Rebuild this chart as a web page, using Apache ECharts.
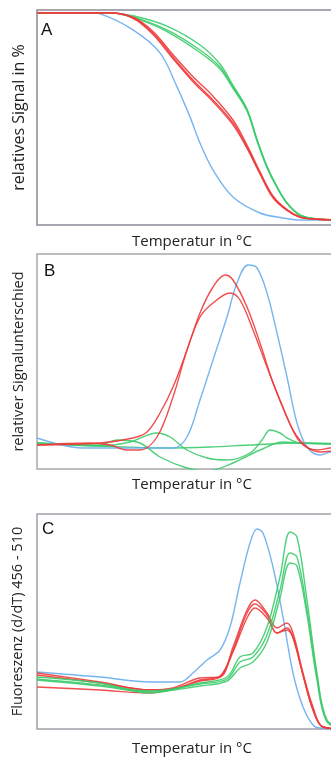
<!DOCTYPE html>
<html><head><meta charset="utf-8">
<script src="https://cdn.jsdelivr.net/npm/echarts@6/dist/echarts.min.js"></script>
<style>html,body{margin:0;padding:0;background:#fff}#c{width:331px;height:758px}</style>
</head><body><div id="c"></div>
<script>
// Panel A: relative signal (%) vs temperature (arbitrary units)
const aBlueX = [0,53,63,96,123,140,153,163,176,196,223,246,263,308];
const aBlueY = [100,100,99.5,91.8,80.7,64.3,49.8,37.2,24.2,11.1,3.4,1.0,0,0];
const aRedX = [0,63,73,96,116,136,156,176,196,210,223,236,250,263,276,308];
const aRed1Y = [100,100,100,97.6,90.3,78.7,67.6,58.0,46.9,35.3,22.7,11.1,4.8,1.4,0.5,0];
const aRed2Y = [100,100,100,97.9,91.0,79.8,69.2,59.8,48.3,36.2,23.3,11.6,5.0,1.5,0.5,0];
const aRed3Y = [100,100,100,97.3,89.6,77.9,66.8,57.1,45.9,34.6,22.2,10.7,4.6,1.3,0.5,0];
const aGreenX = [0,73,96,130,163,183,196,210,220,230,240,250,263,280,308];
const aGreen1Y = [100,100,98.1,91.8,82.1,73.9,64.3,53.1,38.6,25.6,15.9,8.2,2.4,0.5,0];
const aGreen2Y = [100,100,98.6,93.6,84.5,75.3,65.0,53.6,39.0,25.9,16.1,8.3,2.5,0.5,0];
const aGreen3Y = [100,100,97.8,91.0,80.9,72.9,63.6,52.6,38.2,25.3,15.7,8.1,2.3,0.5,0];

// Panel B: relative signal difference
const bBlueX = [0,46,96,136,150,163,176,190,200,211,220,230,240,250,260,270,283,293,308];
const bBlueY = [31,21,21,21,32,69,109,152,186,204,201,176,136,92,46,22,14,17,20];
const bRed1X = [0,63,96,110,123,136,150,163,176,188,196,210,223,236,250,263,280,293,308];
const bRed1Y = [24,26,31,37,56,82,119,156,182,194,189,162,126,86,52,27,19,21,23];
const bRed2X = [0,53,73,90,103,120,136,150,163,176,193,203,216,230,243,256,270,283,308];
const bRed2Y = [24,26,24,19,19,32,72,119,152,166,176,169,139,102,69,39,22,17,21];
const bGreen1X = [0,63,130,173,213,263,308];
const bGreen1Y = [26,23,21,22,24,26,25];
const bGreen2X = [0,63,93,120,133,150,170,190,213,225,233,243,250,263,308];
const bGreen2Y = [26,23,27,36,32,19,11,9,16,29,39,36,31,26,25];
const bGreen3X = [0,63,80,103,123,150,170,196,223,246,263,308];
const bGreen3Y = [26,24,29,26,12,1,-2,6,19,27,26,25];

// Panel C: fluorescence (d/dT) 456 - 510
const cBlueX = [0,63,113,143,156,170,183,193,203,213,220,226,236,246,256,266,276,283,308];
const cBlueY = [57,52,47,47,56,69,79,102,146,186,200,196,162,112,56,22,4,1,0];
const cRedX = [0,63,113,136,163,183,196,210,218,230,240,250,256,266,276,286,308];
const cRed1Y = [56,47,39,41,51,52,82,119,129,116,101,106,96,56,22,2,0];
const cRed2Y = [54,46,39,40,49,53,79,116,125,114,96,99,91,54,19,2,0];
const cRed3Y = [42,39,36,40,48,52,77,111,121,111,96,101,92,54,19,2,0];
const cGreenX = [0,63,113,163,190,203,216,230,243,253,260,270,280,290,308];
const cGreen1Y = [52,46,36,46,52,72,76,102,152,197,192,129,56,9,0];
const cGreen2Y = [50,44,38,45,50,67,72,94,139,176,172,119,52,8,0];
const cGreen3Y = [49,43,37,43,48,61,67,87,131,166,163,114,49,7,0];

const BLUE = '#68adf0', RED = '#ee3b3b', GREEN = '#3ccb6c';
const FONT = 'Open Sans';

function zip(xs, ys){ return xs.map((x,i)=>[x, ys[i]]); }
function line(idx, xs, ys, color){
  return {type:'line', xAxisIndex:idx, yAxisIndex:idx, data:zip(xs,ys), smooth:0.35,
    showSymbol:false, symbol:'none', lineStyle:{color:color, width:1.4, opacity:0.9}, clip:true, silent:true};
}

const grids = [
  {left:37, top:10, width:310, height:215},
  {left:37, top:254, width:310, height:215},
  {left:37, top:514, width:310, height:215}
];
const yNames = ['relatives Signal in %','relativer Signalunterschied','Fluoreszenz (d/dT) 456 - 510'];
const yNameSizes = [16,14.5,14.5];
const yNameGaps = [10,11,12];
const xNameGaps = [9,8,12];
const yRanges = [[-2.4,101.4],[0,215],[0,215]];
const borderColors = ['#8b8b99','#a9a9a9','#a0a0a8'];

const option = {
  animation:false,
  backgroundColor:'#fff',
  grid: grids.map((g,i)=>Object.assign({show:true, borderColor:borderColors[i], borderWidth:1.5,
    backgroundColor:'transparent', containLabel:false, outerBoundsMode:'none'}, g)),
  xAxis: grids.map((g,i)=>({type:'value', gridIndex:i, min:0, max:310,
    axisLine:{show:false}, axisTick:{show:false}, axisLabel:{show:false}, splitLine:{show:false},
    name:'Temperatur in °C', nameLocation:'middle', nameGap:xNameGaps[i],
    nameTextStyle:{fontFamily:FONT, fontSize:15, color:'#222'}})),
  yAxis: grids.map((g,i)=>({type:'value', gridIndex:i, min:yRanges[i][0], max:yRanges[i][1],
    axisLine:{show:false}, axisTick:{show:false}, axisLabel:{show:false}, splitLine:{show:false},
    name:yNames[i], nameLocation:'middle', nameGap:yNameGaps[i],
    nameTextStyle:{fontFamily:FONT, fontSize:yNameSizes[i], color:'#222'}})),
  graphic:[
    {type:'text', left:41, top:22, style:{text:'A', font:'17px "Liberation Sans"', fill:'#111'}},
    {type:'text', left:44, top:263, style:{text:'B', font:'17px "Liberation Sans"', fill:'#111'}},
    {type:'text', left:42, top:521, style:{text:'C', font:'17px "Liberation Sans"', fill:'#111'}}
  ],
  series:[
    line(0,aBlueX,aBlueY,BLUE),
    line(0,aGreenX,aGreen1Y,GREEN), line(0,aGreenX,aGreen2Y,GREEN), line(0,aGreenX,aGreen3Y,GREEN),
    line(0,aRedX,aRed1Y,RED), line(0,aRedX,aRed2Y,RED), line(0,aRedX,aRed3Y,RED),
    line(1,bGreen1X,bGreen1Y,GREEN), line(1,bGreen2X,bGreen2Y,GREEN), line(1,bGreen3X,bGreen3Y,GREEN),
    line(1,bBlueX,bBlueY,BLUE),
    line(1,bRed1X,bRed1Y,RED), line(1,bRed2X,bRed2Y,RED),
    line(2,cBlueX,cBlueY,BLUE),
    line(2,cRedX,cRed1Y,RED), line(2,cRedX,cRed2Y,RED), line(2,cRedX,cRed3Y,RED),
    line(2,cGreenX,cGreen1Y,GREEN), line(2,cGreenX,cGreen2Y,GREEN), line(2,cGreenX,cGreen3Y,GREEN)
  ]
};
const chart = echarts.init(document.getElementById('c'), null, {renderer:'canvas'});
chart.setOption(option);
</script></body></html>
